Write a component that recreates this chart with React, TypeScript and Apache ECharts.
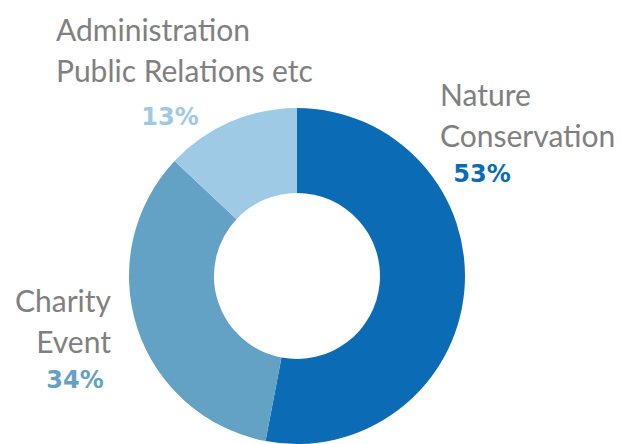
import React, { useEffect, useRef } from "react";
import * as echarts from "echarts";

const categories = ["Nature\nConservation", "Charity\nEvent", "Administration\nPublic Relations etc"];
const values = [53, 34, 13];
const sliceColors = ["#0b6cb5", "#63a2c5", "#9ecae5"];

// label placement (pixels) — layout only
const nameLayout = [
  { x: 440, y: 114, align: "left" },
  { x: 111, y: 320, align: "right" },
  { x: 56, y: 49, align: "left" },
];
const pctLayout = [
  { x: 482, y: 174 },
  { x: 75, y: 380 },
  { x: 170, y: 117 },
];

export default function App() {
  const ref = useRef<HTMLDivElement>(null);
  useEffect(() => {
    document.body.style.margin = "0";
    const chart = echarts.init(ref.current!, undefined, { renderer: "svg" });
    const data = categories.map((name, i) => ({
      name,
      value: values[i],
      itemStyle: { color: sliceColors[i] },
    }));
    chart.setOption({
      animation: false,
      backgroundColor: "#ffffff",
      series: [
        {
          type: "pie",
          center: [297, 276],
          radius: [83, 168],
          startAngle: 90,
          clockwise: true,
          avoidLabelOverlap: false,
          silent: true,
          data,
          itemStyle: { borderWidth: 0 },
          label: {
            show: true,
            formatter: (p: any) => p.name,
            color: "#808080",
            fontFamily: "Lato",
            fontSize: 30,
            lineHeight: 41,
          },
          labelLine: { show: false },
          labelLayout: (p: any) => {
            const l = nameLayout[p.dataIndex];
            return { x: l.x, y: l.y, align: l.align, verticalAlign: "middle" };
          },
        },
        {
          type: "pie",
          center: [297, 276],
          radius: [83, 168],
          startAngle: 90,
          clockwise: true,
          avoidLabelOverlap: false,
          silent: true,
          data: data.map((d, i) => ({
            ...d,
            itemStyle: { color: "rgba(0,0,0,0)" },
            label: { color: sliceColors[i] },
          })),
          label: {
            show: true,
            formatter: "{c}%",
            fontFamily: "DejaVu Sans",
            fontWeight: "bold",
            fontSize: 24,
          },
          labelLine: { show: false },
          labelLayout: (p: any) => {
            const l = pctLayout[p.dataIndex];
            return { x: l.x, y: l.y, align: "center", verticalAlign: "middle" };
          },
        },
      ],
    });
    return () => chart.dispose();
  }, []);
  return <div ref={ref} style={{ width: 621, height: 444 }} />;
}
